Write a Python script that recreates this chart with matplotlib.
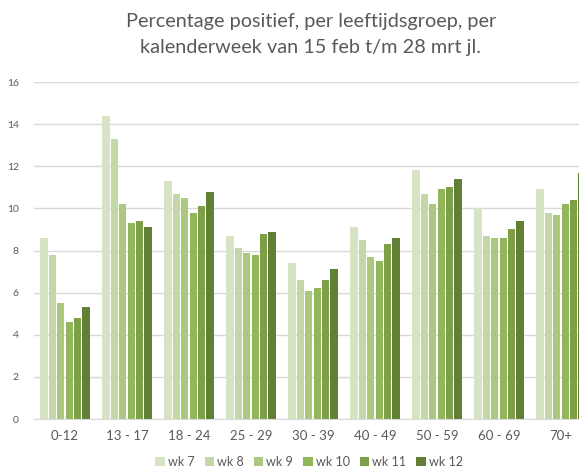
import matplotlib
matplotlib.use("Agg")
import matplotlib.pyplot as plt
import numpy as np
from matplotlib.patches import Patch

plt.rcParams['font.family'] = ['Lato', 'DejaVu Sans']

categories = ["0-12", "13 - 17", "18 - 24", "25 - 29", "30 - 39", "40 - 49", "50 - 59", "60 - 69", "70+"]
weeks = ["wk 7", "wk 8", "wk 9", "wk 10", "wk 11", "wk 12"]
wk7 = [8.6, 14.4, 11.3, 8.7, 7.4, 9.1, 11.8, 10.0, 10.9]
wk8 = [7.8, 13.3, 10.7, 8.1, 6.6, 8.5, 10.7, 8.7, 9.8]
wk9 = [5.5, 10.2, 10.5, 7.9, 6.1, 7.7, 10.2, 8.6, 9.7]
wk10 = [4.6, 9.3, 9.8, 7.8, 6.2, 7.5, 10.9, 8.6, 10.2]
wk11 = [4.8, 9.4, 10.1, 8.8, 6.6, 8.3, 11.0, 9.0, 10.4]
wk12 = [5.3, 9.1, 10.8, 8.9, 7.1, 8.6, 11.4, 9.4, 11.7]
series = [wk7, wk8, wk9, wk10, wk11, wk12]
colors = ["#d6e4c3", "#c3d8a6", "#abc780", "#92b65a", "#7d9f48", "#627f36"]

fig = plt.figure(figsize=(5.79, 4.73), dpi=100)
ax = fig.add_axes([34/579, 54/473, 558/579, 337/473])

x = np.arange(len(categories))
slot = 0.135
for i, (vals, c) in enumerate(zip(series, colors)):
    ax.bar(x + (i - 2.5) * slot, vals, width=slot * 0.86, color=c, zorder=2)

ax.set_xlim(-0.5, len(categories) - 0.5)
ax.set_ylim(0, 16)
ax.set_yticks(range(0, 17, 2))
ax.set_xticks(x)
ax.set_xticklabels(categories, fontsize=9.5, color="#595959")
ax.tick_params(axis='y', labelsize=7.5, colors="#595959", length=0, pad=11)
ax.tick_params(axis='x', length=0, pad=8)
ax.grid(axis='y', color="#d9d9d9", linewidth=1, zorder=0)
for s in ["top", "right", "left"]:
    ax.spines[s].set_visible(False)
ax.spines["bottom"].set_color("#d9d9d9")

fig.text(311/579, 1 - 22/473, "Percentage positief, per leeftijdsgroep, per",
         ha="center", va="center", fontsize=14.3, color="#595959")
fig.text(311/579, 1 - 48/473, "kalenderweek van 15 feb t/m 28 mrt jl.",
         ha="center", va="center", fontsize=14.3, color="#595959")

handles = [Patch(facecolor=c, edgecolor='none') for c in colors]
fig.legend(handles, weeks, loc="center", bbox_to_anchor=(309/579, 1 - 462/473),
           ncol=6, frameon=False, fontsize=9, handlelength=0.75, handleheight=0.75,
           handletextpad=0.25, columnspacing=0.8, labelcolor="#595959")

fig.savefig("out.png", dpi=100)
